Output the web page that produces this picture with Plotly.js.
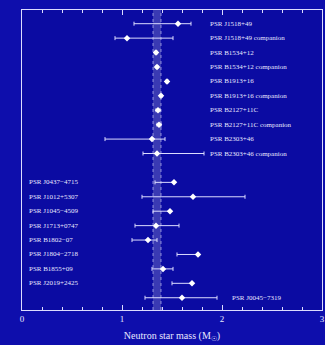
<!DOCTYPE html>
<html>
<head>
<meta charset="utf-8">
<script src="https://cdn.plot.ly/plotly-3.0.1.min.js"></script>
<style>html,body{margin:0;padding:0;background:#0e0eac;}#chart{width:325px;height:345px;}</style>
</head>
<body>
<div id="chart"></div>
<script>
// Double neutron star systems (labels on the right)
const dnsNames = ["PSR J1518+49","PSR J1518+49 companion","PSR B1534+12","PSR B1534+12 companion","PSR B1913+16","PSR B1913+16 companion","PSR B2127+11C","PSR B2127+11C companion","PSR B2303+46","PSR B2303+46 companion"];
const dnsRows = [1,2,3,4,5,6,7,8,9,10];
const dnsMass = [1.56,1.05,1.34,1.35,1.45,1.39,1.36,1.37,1.30,1.35];
const dnsPlus = [0.13,0.46,0.01,0.01,0.01,0.01,0.02,0.02,0.13,0.47];
const dnsMinus = [0.44,0.12,0.01,0.01,0.01,0.01,0.02,0.02,0.47,0.14];

// Neutron star - white dwarf / main sequence binaries (labels on the left)
const wdNames = ["PSR J0437\u22124715","PSR J1012+5307","PSR J1045\u22124509","PSR J1713+0747","PSR B1802\u221207","PSR J1804\u22122718","PSR B1855+09","PSR J2019+2425"];
const wdRows = [12,13,14,15,16,17,18,19];
const wdMass = [1.52,1.71,1.48,1.34,1.26,1.76,1.41,1.70];
const wdPlus = [0,0.52,0,0.23,0.09,0,0.10,0];
const wdMinus = [0.19,0.51,0.17,0.21,0.16,0.21,0.11,0.20];

const msNames = ["PSR J0045\u22127319"];
const msRows = [20];
const msMass = [1.60];
const msPlus = [0.35];
const msMinus = [0.37];

const bandCenter = 1.35;
const bandHalf = 0.04;

const fg = '#dcdcff';
function trace(x, y, p, m) {
  return {
    type: 'scatter', mode: 'markers', x: x, y: y,
    marker: {symbol: 'diamond', size: 5, color: '#ffffff'},
    error_x: {type: 'data', symmetric: false, array: p, arrayminus: m, color: fg, thickness: 1, width: 2},
    hoverinfo: 'skip', showlegend: false
  };
}

const ann = [];
const lf = {family: 'Liberation Serif, DejaVu Serif, serif', size: 7, color: '#e8e8ff'};
dnsNames.forEach((n, i) => ann.push({xref: 'paper', yref: 'y', x: 0.62, y: dnsRows[i], text: n, showarrow: false, xanchor: 'left', yanchor: 'middle', font: lf}));
wdNames.forEach((n, i) => ann.push({xref: 'paper', yref: 'y', x: 0.017, y: wdRows[i], text: n, showarrow: false, xanchor: 'left', yanchor: 'middle', font: lf}));
msNames.forEach((n, i) => ann.push({xref: 'paper', yref: 'y', x: 0.693, y: msRows[i], text: n, showarrow: false, xanchor: 'left', yanchor: 'middle', font: lf}));

const shapes = [
  {type: 'rect', xref: 'x', yref: 'paper', x0: bandCenter - bandHalf, x1: bandCenter + bandHalf, y0: 0, y1: 1, fillcolor: 'rgba(170,170,220,0.3)', line: {width: 0}, layer: 'below'},
  {type: 'line', xref: 'x', yref: 'paper', x0: bandCenter - bandHalf, x1: bandCenter - bandHalf, y0: 0, y1: 1, line: {color: 'rgba(220,220,255,0.6)', width: 1, dash: 'dot'}},
  {type: 'line', xref: 'x', yref: 'paper', x0: bandCenter + bandHalf, x1: bandCenter + bandHalf, y0: 0, y1: 1, line: {color: 'rgba(220,220,255,0.6)', width: 1, dash: 'dot'}}
];

const layout = {
  width: 325, height: 345,
  margin: {l: 22, r: 3, t: 10, b: 35},
  paper_bgcolor: '#0e0eac',
  plot_bgcolor: '#0b0ba2',
  xaxis: {
    range: [0, 3], dtick: 1, ticks: 'inside', ticklen: 5, tickcolor: fg, tickwidth: 1,
    minor: {dtick: 0.2, ticks: 'inside', ticklen: 3, tickcolor: fg},
    showline: true, linecolor: fg, linewidth: 1, mirror: 'allticks',
    showgrid: false, zeroline: false,
    tickfont: {family: 'Liberation Serif, DejaVu Serif, serif', size: 9, color: '#e8e8ff'},
    title: {text: 'Neutron star mass (M<sub>\u2609</sub>)', font: {family: 'Liberation Serif, DejaVu Serif, serif', size: 10, color: '#e8e8ff'}, standoff: 9}
  },
  yaxis: {
    range: [20.85, 0.05], showticklabels: false, ticks: '', showgrid: false, zeroline: false,
    showline: true, linecolor: fg, linewidth: 1, mirror: true
  },
  annotations: ann,
  shapes: shapes
};

Plotly.newPlot('chart', [trace(dnsMass, dnsRows, dnsPlus, dnsMinus), trace(wdMass, wdRows, wdPlus, wdMinus), trace(msMass, msRows, msPlus, msMinus)], layout, {staticPlot: true, displayModeBar: false});
</script>
</body>
</html>
